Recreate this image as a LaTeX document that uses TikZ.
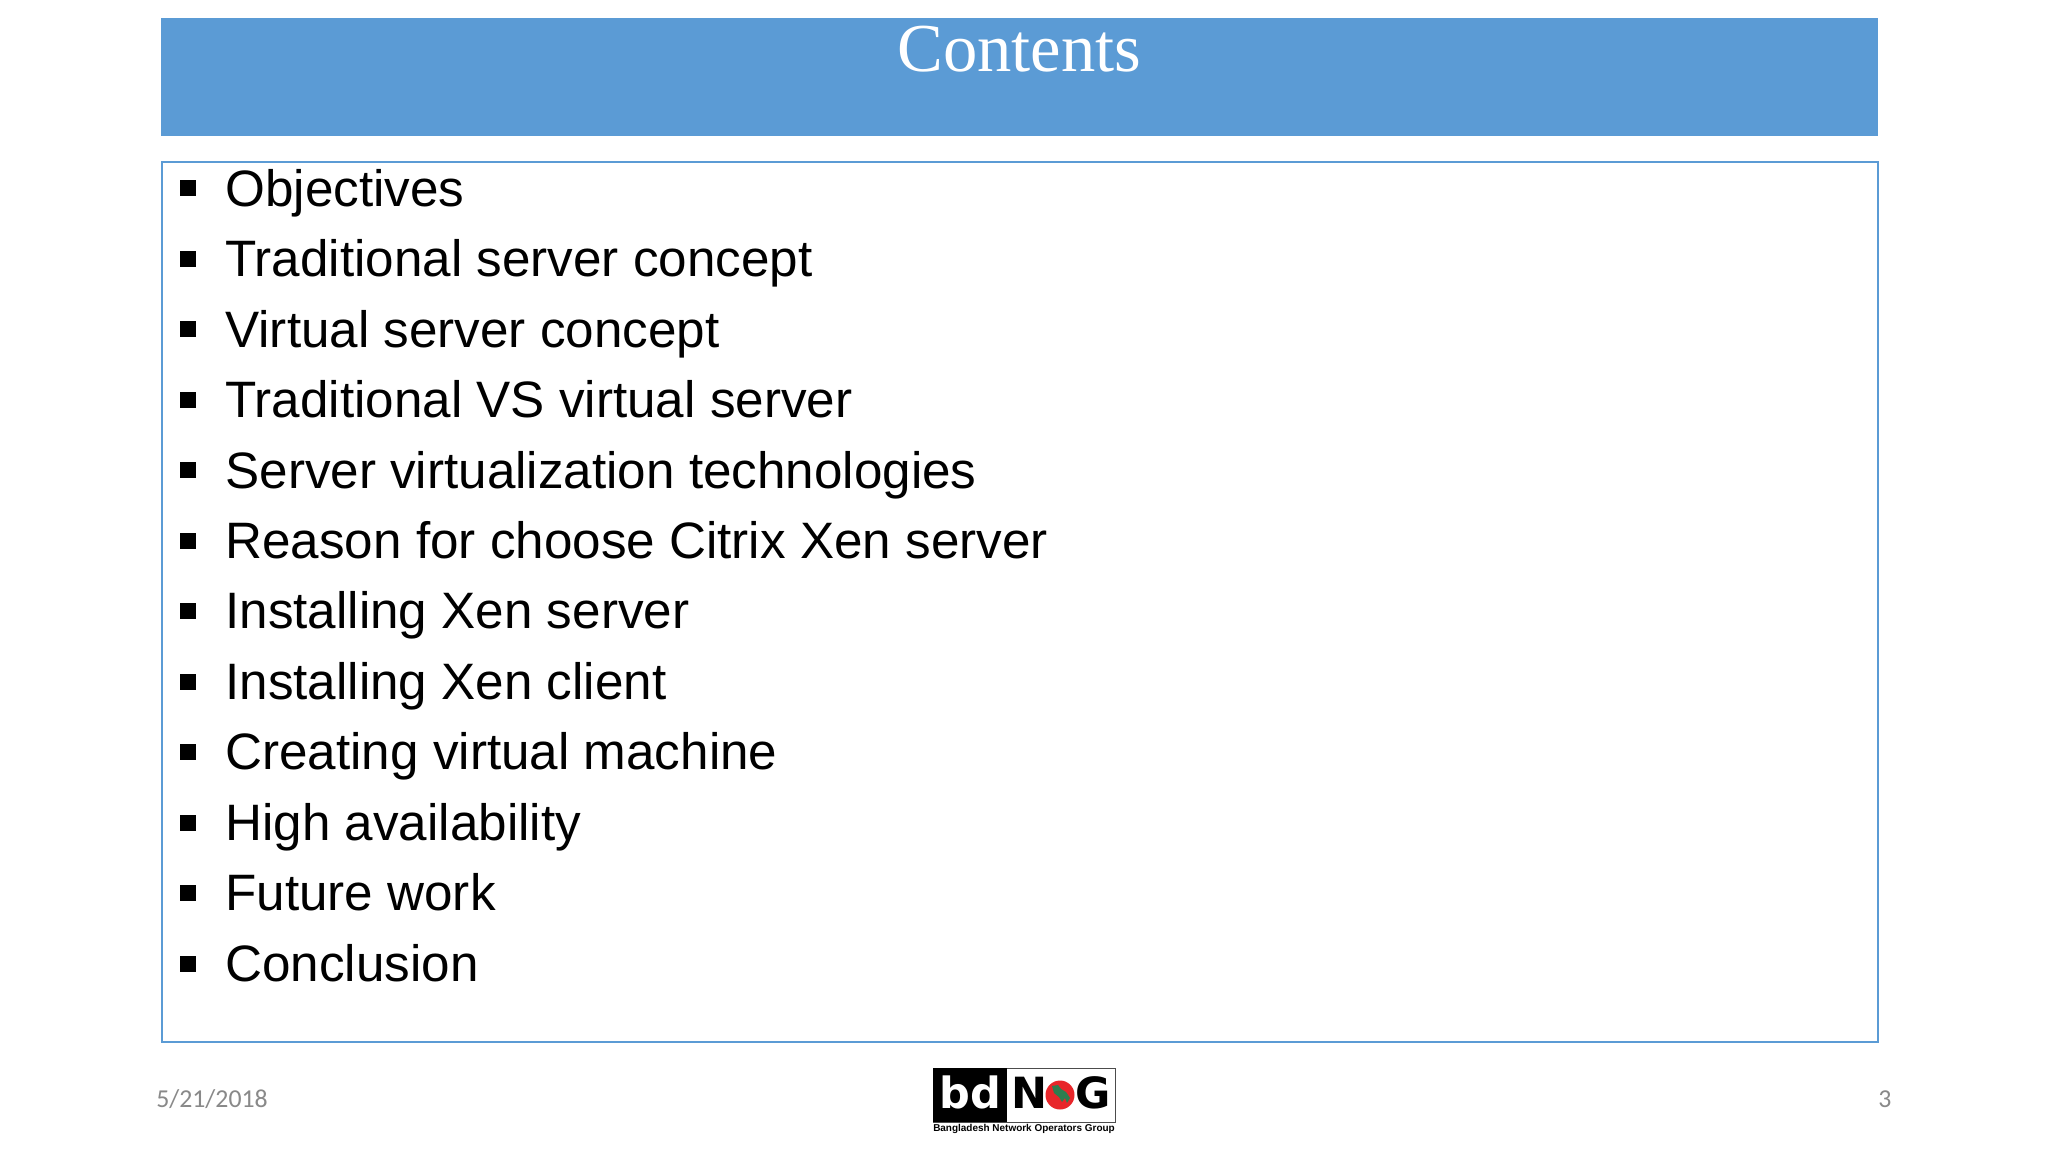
\documentclass[tikz,border=0pt]{standalone}
\usepackage{fontspec}
\setmainfont{Liberation Sans}
\newfontfamily\titlefont{Liberation Serif}
\newfontfamily\footfont{Carlito}
\newfontfamily\logofont{DejaVu Sans}
\definecolor{bannerblue}{HTML}{5B9BD5}
\definecolor{footgrey}{HTML}{898989}
\definecolor{logored}{HTML}{E8262A}
\definecolor{logogreen}{HTML}{2E7D4F}
\tikzset{itemtext/.style={anchor=base west,inner sep=0pt,font=\fontsize{25.6}{28}\selectfont},
	itembullet/.style={fill=black,inner sep=0pt,minimum size=8pt},
	foottext/.style={anchor=base,inner sep=0pt,text=footgrey,font=\footfont\fontsize{12.9}{14}\selectfont},
	logotext/.style={anchor=base,inner sep=0pt,font=\logofont\bfseries\fontsize{21.5}{24}\selectfont}}

\begin{document}
\begin{tikzpicture}[x=0.5pt,y=-0.5pt]
		\useasboundingbox (0,0) rectangle (2048,1152);
		\fill[white] (0,0) rectangle (2048,1152);
		\fill[bannerblue] (161,18) rectangle (1878,136);
		\node[anchor=base,inner sep=0pt,text=white,font=\titlefont\fontsize{34.3}{36}\selectfont] (title) at (1019.5,71) {Contents};
		\draw[bannerblue,line width=1pt] (161.5,161.5) rectangle (1877.5,1042);
		\foreach \t [count=\i from 0] in {Objectives,Traditional server concept,Virtual server concept,Traditional VS virtual server,Server virtualization technologies,Reason for choose Citrix Xen server,Installing Xen server,Installing Xen client,Creating virtual machine,High availability,Future work,Conclusion}
		{\node[itemtext] (item\i) at (225,{206.3+70.43*\i}) {\t};
			\node[itembullet] (bullet\i) at (188,{188+70.5*\i}) {};
		}
		\node[foottext] (date) at (212,1107.5) {5/21/2018};
		\node[foottext] (page) at (1885,1107.5) {3};
		% logo
		\draw[black!70,line width=0.5pt] (933,1068) rectangle (1115,1122);
		\fill[black] (933,1068) rectangle (1007,1122);
		\node[logotext,text=white] (bd) at (970,1108) {bd};
		\node[logotext] (logon) at (1029,1108) {N};
		\node[logotext] (logog) at (1093,1108) {G};
		\fill[logored] (1060,1095) circle (14.5);
		\fill[logogreen] (1052,1086) -- (1058,1085) -- (1061,1089) -- (1066,1092) -- (1070,1098) -- (1067,1103) -- (1065,1098) -- (1062,1102) -- (1059,1097) -- (1054,1093) -- cycle;
		\node[anchor=base,inner sep=0pt,font=\bfseries\fontsize{4.98}{6}\selectfont] (caption) at (1024,1131.5) {Bangladesh Network Operators Group};
		\end{tikzpicture}
\end{document}
